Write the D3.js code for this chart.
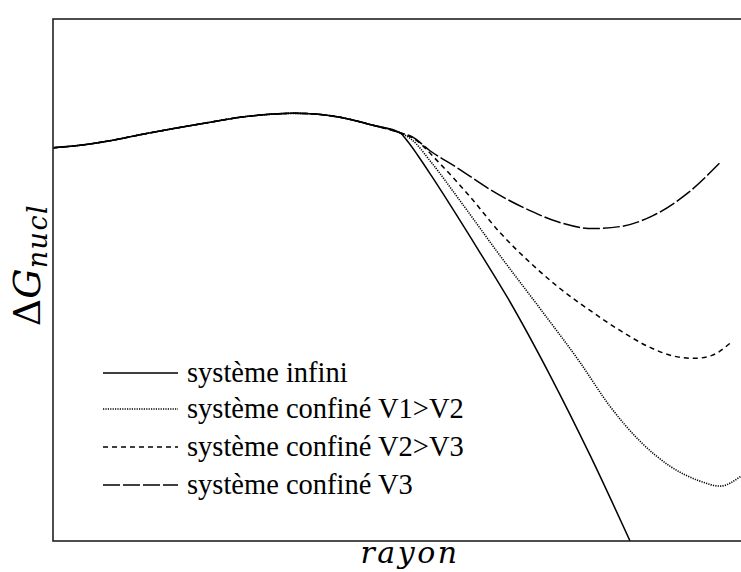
<!DOCTYPE html>
<html><head><meta charset="utf-8">
<script src="https://cdn.jsdelivr.net/npm/d3@7"></script>
<style>html,body{margin:0;padding:0;background:#fff;overflow:hidden}
text{font-family:"DejaVu Serif","Liberation Serif",serif}
text.tm{font-family:"Liberation Serif","Times New Roman","DejaVu Serif",serif}</style>
</head><body>
<script>
// Shared rising part (rayon, ΔG_nucl in arbitrary units)
const common = [[0,7.533],[0.377,7.581],[0.795,7.667],[1.213,7.782],[1.702,7.906],[2.148,8.011],[2.608,8.117],[3.027,8.174],[3.347,8.193],[3.654,8.180],[4.003,8.117],[4.463,7.964],[4.840,7.820]];
const infini = [[4.951,7.648],[5.091,7.380],[5.286,6.979],[5.537,6.444],[5.955,5.526],[6.346,4.646],[6.932,3.174],[7.490,1.644],[8.048,0]];
const confV1V2 = [[5.007,7.686],[5.258,7.285],[5.676,6.520],[6.234,5.468],[6.792,4.455],[7.350,3.423],[7.768,2.581],[8.187,1.912],[8.605,1.434],[9.024,1.147],[9.303,1.052],[9.596,1.243]];
const confV2V3 = [[5.035,7.706],[5.398,7.228],[5.816,6.597],[6.234,5.908],[6.653,5.335],[7.071,4.837],[7.490,4.417],[7.908,4.034],[8.326,3.709],[8.675,3.537],[8.954,3.499],[9.191,3.556],[9.442,3.786]];
const confV3 = [[5.007,7.744],[5.258,7.476],[5.635,7.151],[6.192,6.654],[6.653,6.329],[7.029,6.119],[7.531,5.985],[7.908,6.023],[8.368,6.233],[8.842,6.654],[9.303,7.247]];
const seriesNames = ["système infini","système confiné V1>V2","système confiné V2>V3","système confiné V3"];
const seriesDash = [null,"1.2,1.2","5,4","17,3"];
const seriesData = [infini, confV1V2, confV2V3, confV3];

const W = 741, H = 572;
const mLeft = 53, mTop = 19, mRight = 770, mBottom = 541;
const svg = d3.select("body").append("svg").attr("width", W).attr("height", H);
const x = d3.scaleLinear().domain([0,10]).range([mLeft, mRight]);
const y = d3.scaleLinear().domain([0,10]).range([mBottom, mTop]);

svg.append("clipPath").attr("id","clip").append("rect")
  .attr("x", mLeft).attr("y", mTop).attr("width", mRight-mLeft).attr("height", mBottom-mTop);

const line = d3.line().x(d=>x(d[0])).y(d=>y(d[1])).curve(d3.curveMonotoneX);
const g = svg.append("g").attr("clip-path","url(#clip)");
seriesData.forEach((s,i)=>{
  g.append("path").datum(common.concat(s))
    .attr("d", line).attr("fill","none").attr("stroke","#000")
    .attr("stroke-width", i===1 ? 1.6 : 1.5)
    .attr("stroke-dasharray", seriesDash[i]);
});

// frame
svg.append("rect").attr("x", mLeft).attr("y", mTop).attr("width", mRight-mLeft).attr("height", mBottom-mTop)
  .attr("fill","none").attr("stroke","#222").attr("stroke-width",1.6);

// legend
const lg = svg.append("g");
const rows = [373, 409, 447, 485];
seriesNames.forEach((n,i)=>{
  lg.append("line").attr("x1",103).attr("x2",178).attr("y1",rows[i]).attr("y2",rows[i])
    .attr("stroke","#000").attr("stroke-width", i===1?1.6:1.5).attr("stroke-dasharray", seriesDash[i]);
  lg.append("text").attr("class","tm").attr("x",187).attr("y",rows[i]+9)
    .attr("font-size",28.5).attr("fill","#000").text(n);
});

// axis labels
svg.append("text").attr("x", 410).attr("y", 563).attr("text-anchor","middle")
  .attr("font-style","italic")
  .attr("font-size",30).attr("letter-spacing",2.5).text("rayon");

const yl = svg.append("text").attr("transform","translate(40,265) rotate(-90)")
  .attr("text-anchor","middle").attr("font-size",38);
yl.append("tspan").text("Δ");
yl.append("tspan").attr("font-style","italic").text("G");
yl.append("tspan").attr("font-style","italic").attr("font-size",27).attr("dy",7).attr("letter-spacing",1.5).text("nucl");
</script>
</body></html>
